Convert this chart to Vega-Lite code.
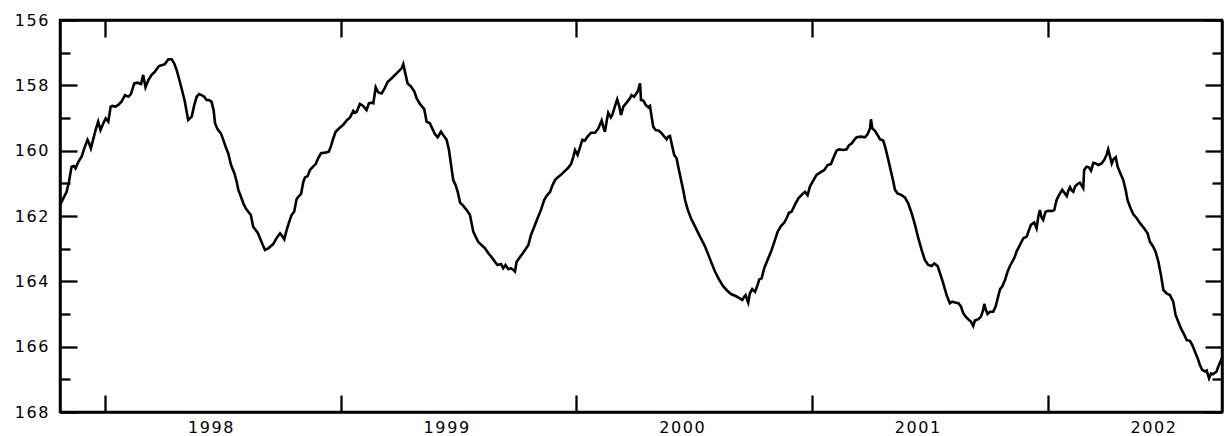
{
  "$schema": "https://vega.github.io/schema/vega-lite/v6.json",
  "width": 1162,
  "height": 392,
  "autosize": {"type": "none"},
  "padding": {"left": 60, "top": 20, "right": 5, "bottom": 24},
  "background": "white",
  "config": {
    "view": {"stroke": "black", "strokeWidth": 2.5},
    "axis": {
      "grid": false,
      "domainColor": "black",
      "domainWidth": 2.5,
      "tickColor": "black",
      "tickWidth": 2.3,
      "labelFont": "DejaVu Sans",
      "labelFontSize": 16,
      "labelColor": "black",
      "title": null
    }
  },
  "data": {"values": [
    {"t":1997.808,"v":161.66},{"t":1997.812,"v":161.61},{"t":1997.822,"v":161.46},{"t":1997.836,"v":161.26},{"t":1997.846,"v":160.95},{"t":1997.857,"v":160.49},{"t":1997.867,"v":160.47},{"t":1997.874,"v":160.54},{"t":1997.886,"v":160.34},{"t":1997.900,"v":160.18},{"t":1997.911,"v":159.93},{"t":1997.925,"v":159.67},{"t":1997.932,"v":159.78},{"t":1997.939,"v":159.93},{"t":1997.949,"v":159.65},{"t":1997.959,"v":159.37},{"t":1997.970,"v":159.11},{"t":1997.980,"v":159.37},{"t":1997.992,"v":159.16},{"t":1998.002,"v":159.01},{"t":1998.013,"v":159.11},{"t":1998.023,"v":158.65},{"t":1998.030,"v":158.63},{"t":1998.044,"v":158.65},{"t":1998.055,"v":158.60},{"t":1998.069,"v":158.50},{"t":1998.084,"v":158.30},{"t":1998.098,"v":158.35},{"t":1998.109,"v":158.27},{"t":1998.123,"v":157.94},{"t":1998.137,"v":157.92},{"t":1998.152,"v":157.96},{"t":1998.161,"v":157.68},{"t":1998.171,"v":158.06},{"t":1998.183,"v":157.84},{"t":1998.197,"v":157.68},{"t":1998.211,"v":157.58},{"t":1998.228,"v":157.41},{"t":1998.242,"v":157.38},{"t":1998.253,"v":157.35},{"t":1998.268,"v":157.20},{"t":1998.282,"v":157.20},{"t":1998.293,"v":157.33},{"t":1998.303,"v":157.53},{"t":1998.313,"v":157.79},{"t":1998.324,"v":158.09},{"t":1998.338,"v":158.50},{"t":1998.352,"v":159.06},{"t":1998.367,"v":158.96},{"t":1998.378,"v":158.60},{"t":1998.388,"v":158.35},{"t":1998.398,"v":158.27},{"t":1998.409,"v":158.30},{"t":1998.420,"v":158.35},{"t":1998.430,"v":158.45},{"t":1998.440,"v":158.45},{"t":1998.451,"v":158.50},{"t":1998.460,"v":158.76},{"t":1998.466,"v":159.16},{"t":1998.477,"v":159.35},{"t":1998.491,"v":159.47},{"t":1998.501,"v":159.67},{"t":1998.511,"v":159.88},{"t":1998.522,"v":160.08},{"t":1998.534,"v":160.44},{"t":1998.548,"v":160.69},{"t":1998.558,"v":160.95},{"t":1998.565,"v":161.20},{"t":1998.576,"v":161.41},{"t":1998.586,"v":161.61},{"t":1998.596,"v":161.76},{"t":1998.607,"v":161.87},{"t":1998.618,"v":161.97},{"t":1998.628,"v":162.33},
    {"t":1998.647,"v":162.51},{"t":1998.657,"v":162.68},{"t":1998.667,"v":162.86},{"t":1998.678,"v":163.04},{"t":1998.692,"v":162.99},{"t":1998.713,"v":162.86},{"t":1998.727,"v":162.68},{"t":1998.742,"v":162.53},{"t":1998.751,"v":162.61},{"t":1998.760,"v":162.71},{"t":1998.770,"v":162.43},{"t":1998.781,"v":162.17},{"t":1998.791,"v":161.97},{"t":1998.802,"v":161.87},{"t":1998.812,"v":161.49},{"t":1998.822,"v":161.39},{"t":1998.831,"v":161.33},{"t":1998.841,"v":160.95},{"t":1998.848,"v":160.82},{"t":1998.859,"v":160.78},{"t":1998.869,"v":160.59},{"t":1998.879,"v":160.51},{"t":1998.893,"v":160.41},{"t":1998.904,"v":160.23},{"t":1998.916,"v":160.08},{"t":1998.933,"v":160.06},{"t":1998.949,"v":160.03},{"t":1998.958,"v":159.86},{"t":1998.968,"v":159.62},{"t":1998.978,"v":159.42},{"t":1998.992,"v":159.32},{"t":1999.010,"v":159.21},{"t":1999.024,"v":159.08},{"t":1999.039,"v":158.98},{"t":1999.053,"v":158.78},{"t":1999.060,"v":158.84},{"t":1999.067,"v":158.81},{"t":1999.081,"v":158.57},{"t":1999.095,"v":158.63},{"t":1999.109,"v":158.76},{"t":1999.119,"v":158.55},{"t":1999.131,"v":158.53},{"t":1999.138,"v":158.55},{"t":1999.148,"v":158.06},{"t":1999.159,"v":158.22},{"t":1999.173,"v":158.25},{"t":1999.184,"v":158.12},{"t":1999.199,"v":157.89},{"t":1999.215,"v":157.79},{"t":1999.230,"v":157.68},{"t":1999.244,"v":157.58},{"t":1999.258,"v":157.48},{"t":1999.265,"v":157.35},{"t":1999.272,"v":157.58},{"t":1999.283,"v":157.94},{"t":1999.298,"v":158.04},{"t":1999.312,"v":158.19},{"t":1999.322,"v":158.40},{"t":1999.336,"v":158.57},{"t":1999.354,"v":158.73},{"t":1999.364,"v":159.11},{"t":1999.378,"v":159.16},{"t":1999.388,"v":159.32},{"t":1999.399,"v":159.49},{"t":1999.411,"v":159.59},{"t":1999.425,"v":159.42},{"t":1999.439,"v":159.57},
    {"t":1999.449,"v":159.67},{"t":1999.459,"v":159.98},{"t":1999.467,"v":160.39},{"t":1999.477,"v":160.90},{"t":1999.487,"v":161.05},{"t":1999.496,"v":161.26},{"t":1999.506,"v":161.59},{"t":1999.520,"v":161.69},{"t":1999.534,"v":161.82},{"t":1999.548,"v":161.97},{"t":1999.555,"v":162.22},{"t":1999.562,"v":162.48},{"t":1999.572,"v":162.63},{"t":1999.583,"v":162.79},{"t":1999.597,"v":162.89},{"t":1999.612,"v":162.99},{"t":1999.626,"v":163.14},{"t":1999.640,"v":163.26},{"t":1999.654,"v":163.40},{"t":1999.665,"v":163.50},{"t":1999.680,"v":163.47},{"t":1999.689,"v":163.60},{"t":1999.699,"v":163.50},{"t":1999.711,"v":163.63},{"t":1999.722,"v":163.60},{"t":1999.732,"v":163.65},{"t":1999.739,"v":163.70},{"t":1999.746,"v":163.40},{"t":1999.756,"v":163.30},{"t":1999.770,"v":163.16},{"t":1999.784,"v":163.02},{"t":1999.796,"v":162.89},{"t":1999.807,"v":162.58},{"t":1999.821,"v":162.33},{"t":1999.835,"v":162.07},{"t":1999.849,"v":161.82},{"t":1999.863,"v":161.51},{"t":1999.873,"v":161.39},{"t":1999.888,"v":161.26},{"t":1999.897,"v":161.08},{"t":1999.909,"v":160.90},{"t":1999.920,"v":160.82},{"t":1999.934,"v":160.74},{"t":1999.948,"v":160.64},{"t":1999.963,"v":160.54},{"t":1999.977,"v":160.41},{"t":1999.987,"v":160.18},{"t":1999.994,"v":159.98},{"t":2000.005,"v":160.13},{"t":2000.015,"v":159.90},{"t":2000.025,"v":159.67},{"t":2000.036,"v":159.69},{"t":2000.047,"v":159.57},{"t":2000.062,"v":159.45},{"t":2000.079,"v":159.45},{"t":2000.093,"v":159.32},{"t":2000.107,"v":159.08},{"t":2000.114,"v":159.27},{"t":2000.121,"v":159.42},{"t":2000.128,"v":159.11},{"t":2000.135,"v":158.84},{"t":2000.146,"v":158.98},{"t":2000.152,"v":158.91},{"t":2000.163,"v":158.65},{"t":2000.173,"v":158.43},{"t":2000.182,"v":158.65},{"t":2000.189,"v":158.91},{"t":2000.199,"v":158.65},{"t":2000.213,"v":158.53},{"t":2000.227,"v":158.40},{"t":2000.234,"v":158.30},{"t":2000.245,"v":158.35},
    {"t":2000.260,"v":158.19},{"t":2000.270,"v":157.94},{"t":2000.274,"v":158.45},{"t":2000.284,"v":158.47},{"t":2000.294,"v":158.60},{"t":2000.305,"v":158.67},{"t":2000.312,"v":158.63},{"t":2000.319,"v":158.96},{"t":2000.326,"v":159.27},{"t":2000.336,"v":159.37},{"t":2000.350,"v":159.39},{"t":2000.362,"v":159.47},{"t":2000.373,"v":159.57},{"t":2000.383,"v":159.65},{"t":2000.390,"v":159.57},{"t":2000.397,"v":159.55},{"t":2000.407,"v":159.88},{"t":2000.415,"v":160.13},{"t":2000.425,"v":160.23},{"t":2000.435,"v":160.59},{"t":2000.444,"v":160.90},{"t":2000.453,"v":161.20},{"t":2000.461,"v":161.51},{"t":2000.472,"v":161.80},{"t":2000.486,"v":162.07},{"t":2000.500,"v":162.27},{"t":2000.514,"v":162.48},{"t":2000.528,"v":162.68},{"t":2000.545,"v":162.92},{"t":2000.560,"v":163.19},{"t":2000.574,"v":163.45},{"t":2000.588,"v":163.70},{"t":2000.605,"v":163.94},{"t":2000.622,"v":164.14},{"t":2000.639,"v":164.28},{"t":2000.656,"v":164.39},{"t":2000.676,"v":164.45},{"t":2000.694,"v":164.52},{"t":2000.704,"v":164.57},{"t":2000.712,"v":164.47},{"t":2000.718,"v":164.42},{"t":2000.724,"v":164.55},{"t":2000.729,"v":164.65},{"t":2000.736,"v":164.37},{"t":2000.746,"v":164.24},{"t":2000.758,"v":164.32},{"t":2000.769,"v":164.11},{"t":2000.776,"v":163.94},{"t":2000.786,"v":163.91},{"t":2000.797,"v":163.60},{"t":2000.811,"v":163.35},{"t":2000.826,"v":163.09},{"t":2000.840,"v":162.79},{"t":2000.854,"v":162.48},{"t":2000.868,"v":162.31},{"t":2000.882,"v":162.20},{"t":2000.892,"v":162.07},{"t":2000.902,"v":161.90},{"t":2000.913,"v":161.87},{"t":2000.927,"v":161.66},{"t":2000.942,"v":161.46},{"t":2000.959,"v":161.33},{"t":2000.970,"v":161.26},{"t":2000.981,"v":161.36},{"t":2000.991,"v":161.10},{"t":2001.005,"v":160.92},{"t":2001.019,"v":160.74},{"t":2001.034,"v":160.67},{"t":2001.052,"v":160.59},
    {"t":2001.066,"v":160.44},{"t":2001.080,"v":160.41},{"t":2001.090,"v":160.23},{"t":2001.104,"v":160.00},{"t":2001.114,"v":159.96},{"t":2001.133,"v":159.98},{"t":2001.147,"v":159.96},{"t":2001.157,"v":159.83},{"t":2001.168,"v":159.78},{"t":2001.179,"v":159.67},{"t":2001.189,"v":159.59},{"t":2001.208,"v":159.57},{"t":2001.225,"v":159.59},{"t":2001.236,"v":159.49},{"t":2001.246,"v":159.32},{"t":2001.250,"v":159.04},{"t":2001.256,"v":159.32},{"t":2001.267,"v":159.39},{"t":2001.278,"v":159.52},{"t":2001.288,"v":159.65},{"t":2001.302,"v":159.69},{"t":2001.312,"v":159.93},{"t":2001.324,"v":160.29},{"t":2001.335,"v":160.64},{"t":2001.345,"v":160.95},{"t":2001.352,"v":161.20},{"t":2001.363,"v":161.31},{"t":2001.380,"v":161.36},{"t":2001.394,"v":161.43},{"t":2001.408,"v":161.61},{"t":2001.423,"v":161.92},{"t":2001.437,"v":162.27},{"t":2001.451,"v":162.68},{"t":2001.465,"v":163.04},{"t":2001.479,"v":163.35},{"t":2001.493,"v":163.50},{"t":2001.508,"v":163.53},{"t":2001.519,"v":163.45},{"t":2001.533,"v":163.53},{"t":2001.543,"v":163.75},{"t":2001.557,"v":164.06},{"t":2001.571,"v":164.42},{"t":2001.585,"v":164.67},{"t":2001.595,"v":164.62},{"t":2001.607,"v":164.65},{"t":2001.621,"v":164.67},{"t":2001.632,"v":164.77},{"t":2001.642,"v":164.98},{"t":2001.652,"v":165.08},{"t":2001.663,"v":165.16},{"t":2001.674,"v":165.23},{"t":2001.684,"v":165.37},{"t":2001.691,"v":165.20},{"t":2001.706,"v":165.16},{"t":2001.717,"v":165.08},{"t":2001.727,"v":164.86},{"t":2001.731,"v":164.69},{"t":2001.737,"v":164.86},{"t":2001.745,"v":165.00},{"t":2001.755,"v":164.93},{"t":2001.769,"v":164.93},{"t":2001.779,"v":164.77},{"t":2001.790,"v":164.47},{"t":2001.798,"v":164.24},{"t":2001.807,"v":164.16},{"t":2001.819,"v":163.96},{"t":2001.830,"v":163.70},{"t":2001.840,"v":163.53},{"t":2001.850,"v":163.40},{"t":2001.861,"v":163.24},
    {"t":2001.868,"v":163.09},{"t":2001.882,"v":162.89},{"t":2001.897,"v":162.68},{"t":2001.911,"v":162.63},{"t":2001.921,"v":162.43},{"t":2001.929,"v":162.27},{"t":2001.943,"v":162.20},{"t":2001.953,"v":162.38},{"t":2001.960,"v":162.04},{"t":2001.967,"v":161.82},{"t":2001.974,"v":162.04},{"t":2001.981,"v":162.12},{"t":2001.991,"v":161.87},{"t":2002.003,"v":161.84},{"t":2002.017,"v":161.85},{"t":2002.028,"v":161.82},{"t":2002.038,"v":161.51},{"t":2002.048,"v":161.36},{"t":2002.062,"v":161.20},{"t":2002.071,"v":161.29},{"t":2002.081,"v":161.39},{"t":2002.088,"v":161.22},{"t":2002.095,"v":161.12},{"t":2002.102,"v":161.22},{"t":2002.109,"v":161.26},{"t":2002.116,"v":161.10},{"t":2002.127,"v":161.02},{"t":2002.137,"v":160.98},{"t":2002.151,"v":161.15},{"t":2002.155,"v":160.59},{"t":2002.165,"v":160.49},{"t":2002.175,"v":160.51},{"t":2002.184,"v":160.61},{"t":2002.194,"v":160.37},{"t":2002.204,"v":160.39},{"t":2002.215,"v":160.44},{"t":2002.229,"v":160.39},{"t":2002.240,"v":160.29},{"t":2002.250,"v":160.13},{"t":2002.257,"v":159.96},{"t":2002.264,"v":160.16},{"t":2002.272,"v":160.39},{"t":2002.279,"v":160.26},{"t":2002.289,"v":160.20},{"t":2002.297,"v":160.49},{"t":2002.307,"v":160.67},{"t":2002.321,"v":160.90},{"t":2002.331,"v":161.20},{"t":2002.339,"v":161.51},{"t":2002.349,"v":161.71},{"t":2002.363,"v":161.94},{"t":2002.378,"v":162.07},{"t":2002.392,"v":162.22},{"t":2002.410,"v":162.38},{"t":2002.424,"v":162.53},{"t":2002.434,"v":162.79},{"t":2002.448,"v":162.94},{"t":2002.458,"v":163.09},{"t":2002.470,"v":163.40},{"t":2002.481,"v":163.81},{"t":2002.491,"v":164.26},{"t":2002.505,"v":164.37},{"t":2002.519,"v":164.42},{"t":2002.533,"v":164.62},{"t":2002.543,"v":165.03},{"t":2002.554,"v":165.23},{"t":2002.566,"v":165.44},{"t":2002.580,"v":165.64},{"t":2002.590,"v":165.80},{"t":2002.604,"v":165.82},{"t":2002.614,"v":165.95},{"t":2002.625,"v":166.15},{"t":2002.637,"v":166.36},{"t":2002.646,"v":166.56},{"t":2002.656,"v":166.71},{"t":2002.668,"v":166.76},{"t":2002.675,"v":166.73},{"t":2002.685,"v":166.97},{"t":2002.693,"v":166.82},{"t":2002.703,"v":166.84},{"t":2002.717,"v":166.76},{"t":2002.724,"v":166.61},{"t":2002.736,"v":166.41},{"t":2002.740,"v":166.35}
  ]},
  "layer": [
    {
      "mark": {"type": "line", "color": "black", "strokeWidth": 2.6, "clip": true},
      "encoding": {
        "x": {"field": "t", "type": "quantitative",
              "scale": {"domain": [1997.808, 2002.74], "nice": false, "zero": false},
              "axis": {"orient": "bottom", "values": [1998, 1999, 2000, 2001, 2002],
                       "tickSize": -17, "labelOffset": 105, "labelPadding": 24,
                       "labelExpr": "join(split(format(datum.value, 'd'), ''), '\u200a')"}},
        "y": {"field": "v", "type": "quantitative",
              "scale": {"domain": [156, 168], "reverse": true, "nice": false, "zero": false},
              "axis": {"orient": "left", "values": [156,157,158,159,160,161,162,163,164,165,166,167,168],
                       "tickSize": {"condition": {"test": "datum.value % 2 === 0", "value": -17}, "value": -10},
                       "labelPadding": 29,
                       "labelExpr": "datum.value % 2 === 0 ? join(split(format(datum.value, 'd'), ''), '\u200a') : ''"}}
      }
    },
    {
      "mark": {"type": "line", "opacity": 0},
      "encoding": {
        "x": {"field": "t", "type": "quantitative",
              "axis": {"orient": "top", "values": [1998, 1999, 2000, 2001, 2002], "tickSize": -17, "labels": false}},
        "y": {"field": "v", "type": "quantitative",
              "axis": {"orient": "right", "values": [156,157,158,159,160,161,162,163,164,165,166,167,168],
                       "tickSize": {"condition": {"test": "datum.value % 2 === 0", "value": -17}, "value": -10},
                       "labels": false}}
      }
    }
  ],
  "resolve": {"axis": {"x": "independent", "y": "independent"}}
}
